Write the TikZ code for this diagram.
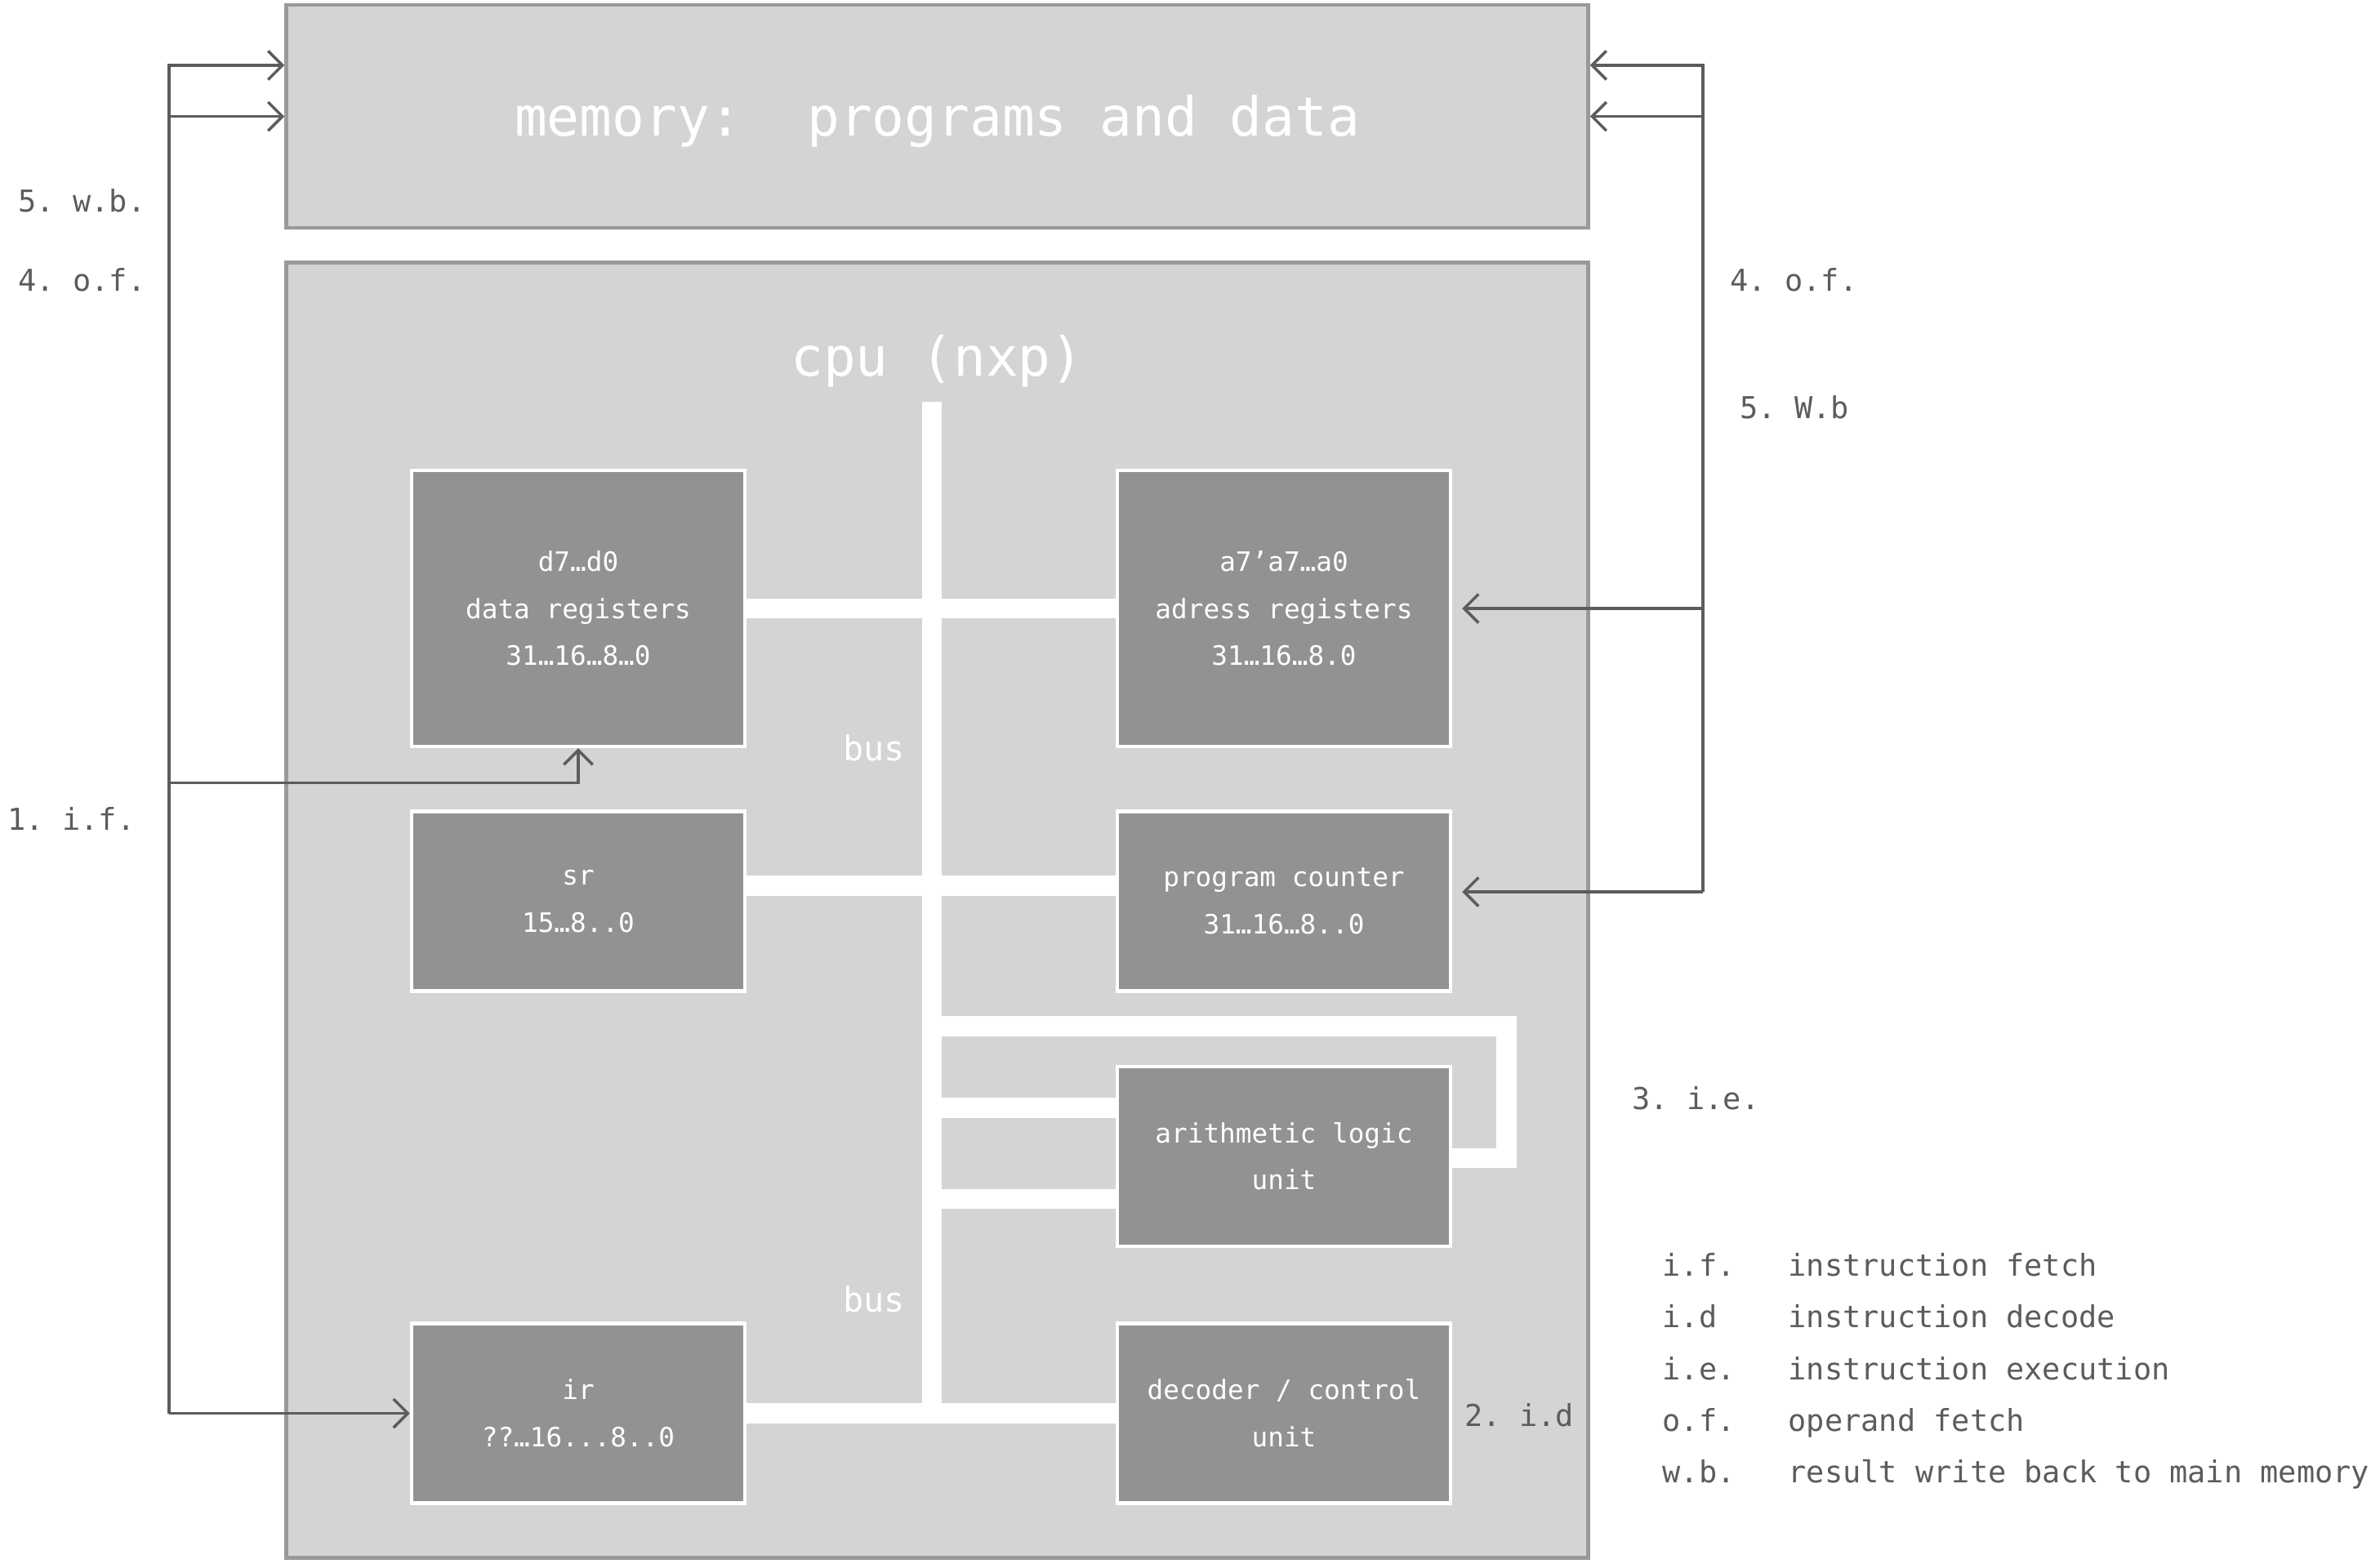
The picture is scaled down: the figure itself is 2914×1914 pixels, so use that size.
\documentclass[tikz,border=0pt]{standalone}
\usepackage{fontspec}
\setmonofont{DejaVu Sans Mono}
\usetikzlibrary{arrows.meta,positioning}

\definecolor{framegray}{HTML}{999999}
\definecolor{panelgray}{HTML}{D4D4D4}
\definecolor{unitgray}{HTML}{929292}
\definecolor{wiregray}{HTML}{5C5C5C}

\newcommand{\titlefont}{\ttfamily\fontsize{18.8}{22}\selectfont}
\newcommand{\unitfont}{\ttfamily\fontsize{9.3}{16.4}\selectfont}
\newcommand{\busfont}{\ttfamily\fontsize{11.9}{14}\selectfont}
\newcommand{\notefont}{\ttfamily\fontsize{10.5}{12}\selectfont}

\tikzset{
  panel/.style={draw=framegray, line width=1.3pt, fill=panelgray, minimum width=15.93cm, inner sep=0pt},
  unit/.style={draw=white, line width=1.2pt, fill=unitgray, text=white, font=\unitfont, align=center,
               minimum width=4.08cm, minimum height=2.2cm, inner sep=0pt},
  busline/.style={draw=white, line width=7pt},
  wire/.style={draw=wiregray, line width=1pt},
  note/.style={text=wiregray, font=\notefont, anchor=west, inner sep=0pt, text height=0.75em, text depth=0.2em, yshift=-0.05cm},
}

\begin{document}
\begin{tikzpicture}[x=0.01cm, y=-0.01cm, >={Straight Barb[length=5pt,width=10pt]}, node distance=8.635cm]
  \useasboundingbox (0,0) rectangle (2914,1914);

  % memory and cpu frames
  \node[panel, minimum height=2.73cm] (mem) at (1147.5,142.5) {};
  \node[text=white, font=\titlefont] (memtitle) at (1147.5,148) {memory:\ \ programs and data};
  \node[panel, minimum height=15.85cm] (cpu) at (1147.5,1114.5) {};
  \node[text=white, font=\titlefont] (cputitle) at (1147.5,442) {cpu (nxp)};

  % registers and units
  \node[unit, minimum height=3.38cm] (dreg) at (708,745) {d7…d0\\data registers\\31…16…8…0};
  \node[unit, minimum height=3.38cm, right of=dreg] (areg) {a7’a7…a0\\adress registers\\31…16…8.0};
  \node[unit] (sr) at (708,1103.5) {sr\\15…8..0};
  \node[unit, right of=sr] (pc) {program counter\\31…16…8..0};
  \node[unit] (ir) at (708,1730.5) {ir\\??…16...8..0};
  \node[unit, right of=ir] (dec) {decoder / control\\unit};
  \node[unit, above of=dec, node distance=3.145cm] (alu) {arithmetic logic\\unit};

  % bus
  \coordinate (bustop) at (1141,492);
  \draw[busline] (bustop) -- (bustop |- ir.east);
  \draw[busline] (dreg) -- (areg);
  \draw[busline] ([yshift=0.19cm]sr.east) -- ([yshift=0.19cm]pc.west);
  \draw[busline] (ir) -- (dec);
  \draw[busline] ([yshift=0.59cm]alu.west -| bustop) -- ([yshift=0.59cm]alu.west);
  \draw[busline] ([yshift=-0.52cm]alu.west -| bustop) -- ([yshift=-0.52cm]alu.west);
  \draw[busline] ([yshift=1.59cm]alu.west -| bustop) -| ([xshift=0.66cm]alu.east) |- ([yshift=-0.02cm]alu.east);
  \node[text=white, font=\busfont] (busupper) at (1070,916) {bus};
  \node[text=white, font=\busfont] (buslower) at (1070,1591) {bus};

  % fetch paths, left
  \coordinate (lft) at (207,958.5);
  \draw[wire,->] (lft |- ir.west) |- ([yshift=0.625cm]mem.west);
  \draw[wire,->] (lft |- mem.west) -- (mem.west);
  \draw[wire,->] (lft) -| (dreg.south);
  \draw[wire,->] (lft |- ir.west) -- (ir.west);

  % operand paths, right
  \coordinate (rgt) at (2085,1092);
  \draw[wire,->] (rgt) |- ([yshift=0.625cm]mem.east);
  \draw[wire,->] (rgt |- mem.east) -- (mem.east);
  \draw[wire,->,shorten >=0.12cm] (rgt |- areg.east) -- (areg.east);
  \draw[wire,->,shorten >=0.12cm] (rgt) -- (rgt -| pc.east);

  % step labels
  \node[note] (wbleft) at (22,245) {5. w.b.};
  \node[note] (ofleft) at (22,342) {4. o.f.};
  \node[note] (ifleft) at (9,1002) {1. i.f.};
  \node[note] (ofright) at (2118,342) {4. o.f.};
  \node[note] (wbright) at (2130,498) {5. W.b};
  \node[note] (ielabel) at (1998,1344) {3. i.e.};
  \node[note] (idlabel) at (1793,1732) {2. i.d};

  % legend
  \foreach \abbr/\desc [count=\i from 0] in {i.f./instruction fetch, i.d/instruction decode,
      i.e./instruction execution, o.f./operand fetch, w.b./result write back to main memory}{
    \node[note] (abbr\i) at (2035,1548+63.2*\i) {\abbr};
    \node[note] (desc\i) at (2189,1548+63.2*\i) {\desc};
  }
\end{tikzpicture}
\end{document}
